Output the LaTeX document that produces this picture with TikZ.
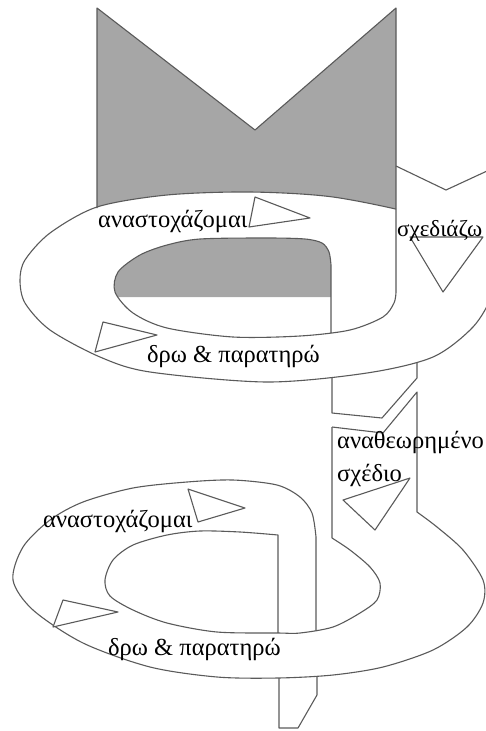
\documentclass[tikz,border=0pt]{standalone}
\usepackage{fontspec}
\setmainfont{Liberation Serif}
\definecolor{mgray}{HTML}{A6A6A6}
\definecolor{lgray}{HTML}{5A5A5A}
\tikzset{
  ln/.style={draw=lgray, line width=1.1pt, line join=round},
  tri/.style={draw=lgray, fill=white, line width=1.1pt, line join=round},
  lbl/.style={font=\fontsize{24.5}{28}\selectfont, inner sep=0pt, anchor=base west, text=black}
}
\begin{document}
\begin{tikzpicture}[x=1pt,y=-1pt]
\useasboundingbox (0,0) rectangle (486,731);
\clip (0,0) rectangle (486,731);
% ---------- top loop ----------
\fill[mgray] (97,8) -- (255,130) -- (396,8) -- (396,297) -- (97,297) -- cycle;
% descending strip (behind band)
\fill[white] (332,240) -- (417,240) -- (417,378) -- (382,418) -- (332,413) -- cycle;
\draw[ln] (332,300) -- (332,413) -- (382,418) -- (417,378) -- (417,300);
% band
\fill[white, even odd rule]
  plot[smooth cycle] coordinates {(250,192) (167,195) (97,207) (50,233) (25,260) (20,280) (25,303) (50,330) (100,357) (150,372) (267,382) (367,373) (433,357) (473,327) (492,295) (495,265) (470,235) (420,215) (333,197)}
  plot[smooth] coordinates {(331,265) (329,252) (322,243) (305,239) (267,238) (200,239) (167,245) (140,255) (118,272) (115,292) (133,313) (167,328) (233,337) (300,336) (331,332)} -- cycle;
% plan strip
\fill[white] (396,166) -- (446,190) -- (500,165) -- (500,300) -- (396,300) -- cycle;
% outer edge of band
\begin{scope}
\clip (0,0) -- (396,0) -- (396,300) -- (500,300) -- (500,740) -- (0,740) -- cycle;
\draw[ln] plot[smooth cycle] coordinates {(250,192) (167,195) (97,207) (50,233) (25,260) (20,280) (25,303) (50,330) (100,357) (150,372) (267,382) (367,373) (433,357) (473,327) (492,295) (495,265) (470,235) (420,215) (333,197)};
\end{scope}
% M outline and inner edge
\draw[ln] (97,208) -- (97,8) -- (255,130) -- (396,8) -- (396,292)
  -- plot[smooth] coordinates {(396,292) (394,303) (383,317) (350,330) (300,336) (233,337) (167,328) (133,313) (115,292) (118,272) (140,255) (167,245) (200,239) (267,238) (305,239) (322,243) (329,252) (331,265)}
  -- (331,333);
% chevron top right
\draw[ln] (396,166) -- (446,190) -- (500,165);
% ---------- bottom loop ----------
\draw[ln] (332,427) -- (383,433) -- (417,392) -- (417,512)
  -- plot[smooth] coordinates {(417,512) (437,527) (463,550) (483,580) (483,603) (467,627) (433,650) (383,667) (333,675) (278,678) (217,677) (150,667) (83,643) (33,610) (13,580) (23,547) (50,520) (83,502) (133,488) (187,482) (233,480) (277,485) (300,497) (312,513) (316,537)}
  -- (316,631);
\draw[ln] (332,427) -- (332,538)
  -- plot[smooth] coordinates {(332,538) (350,550) (370,567) (380,583) (377,600) (360,613) (333,627) (300,633) (278,633) (217,632) (167,623) (133,610) (110,596) (105,580) (113,560) (133,545) (167,535) (200,531) (240,532) (278,535)}
  -- (278,633);
\draw[ln] (279,678) -- (279,728) -- (298,728) -- (317,695) -- (317,677);
% ---------- triangles ----------
\draw[tri] (255,197) -- (310,218) -- (249,227) -- cycle;
\draw[tri] (410,237) -- (483,237) -- (443,292) -- cycle;
\draw[tri] (103,322) -- (157,335) -- (95,352) -- cycle;
\draw[tri] (410,478) -- (343,500) -- (375,530) -- cycle;
\draw[tri] (188,489) -- (245,508) -- (198,522) -- cycle;
\draw[tri] (63,600) -- (118,612) -- (53,627) -- cycle;
% ---------- labels ----------
\node[lbl] (r1) at (98,227) {αναστοχάζομαι};
\node[lbl, font=\fontsize{23}{27}\selectfont] (p1) at (397,236) {σχεδιάζω};
\node[lbl] (a1) at (147,362) {δρω \& παρατηρώ};
\node[lbl] (p2) at (337,448) {αναθεωρημένο};
\node[lbl] (p3) at (337,481) {σχέδιο};
\node[lbl] (r2) at (43,527) {αναστοχάζομαι};
\node[lbl] (a2) at (108,655) {δρω \& παρατηρώ};
\end{tikzpicture}
\end{document}
